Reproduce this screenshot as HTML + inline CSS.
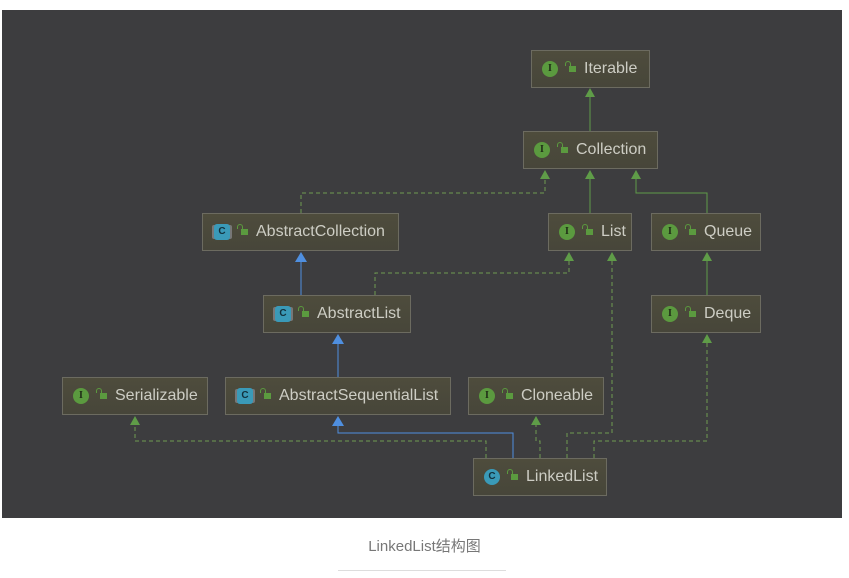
<!DOCTYPE html>
<html><head><meta charset="utf-8"><style>
body{margin:0;width:849px;height:578px;background:#fff;position:relative;overflow:hidden;font-family:"Liberation Sans","Noto Sans CJK SC",sans-serif}
#dark{position:absolute;left:2px;top:10px;width:840px;height:508px;background:#3d3d3f}
.n{position:absolute;box-sizing:border-box;height:38px;border:1px solid #6c6b60;background:linear-gradient(#4e4c3c,#47463a);color:#cdcdc4;font-size:16px;line-height:36px;white-space:nowrap}
.ic{position:absolute;top:10px;width:16px;height:16px;border-radius:50%;background:#5b9a3f;color:#1e2a16;font:bold 10px/16px "Liberation Serif",serif;text-align:center}
.ic.c{background:#3a9ab8;color:#12303c;font-family:"Liberation Sans",sans-serif}
.ic.ac{background:#3a9ab8;color:#12303c;font-family:"Liberation Sans",sans-serif;border-radius:3px;box-shadow:-3px 0 0 -1px #777,3px 0 0 -1px #777}
.lk{position:absolute;top:15px;width:7px;height:6px;background:#5b9a3f}
.lk:before{content:"";position:absolute;left:-4px;top:-5px;width:4px;height:4px;border:1.5px solid #5b9a3f;border-bottom:none;border-radius:3px 3px 0 0}
.t{position:absolute;top:0}
#cap{position:absolute;top:535px;left:0;width:849px;text-align:center;color:#777;font-size:15px}
#ln{position:absolute;left:338px;top:570px;width:168px;height:1px;background:#ddd}
</style></head><body>
<div id="dark"></div>
<svg width="849" height="578" style="position:absolute;left:0;top:0">
<g fill="none" stroke-width="1">
<path d="M590,131 V96" stroke="#5f9c48"/>
<path d="M590,213 V178" stroke="#5f9c48"/>
<path d="M707,213 V193 H636 V178" stroke="#5f9c48"/>
<path d="M707,295 V260" stroke="#5f9c48"/>
<path d="M301,213 V193 H545 V178" stroke="#6f9a52" stroke-dasharray="4,3"/>
<path d="M375,295 V273 H569 V260" stroke="#6f9a52" stroke-dasharray="4,3"/>
<path d="M301,295 V260" stroke="#4f8fe0"/>
<path d="M338,377 V342" stroke="#4f8fe0"/>
<path d="M513,458 V433 H338 V424" stroke="#4f8fe0"/>
<path d="M486,458 V441 H135 V424" stroke="#6f9a52" stroke-dasharray="4,3"/>
<path d="M540,458 V441 H536 V424" stroke="#6f9a52" stroke-dasharray="4,3"/>
<path d="M567,458 V433 H612 V260" stroke="#6f9a52" stroke-dasharray="4,3"/>
<path d="M594,458 V441 H707 V342" stroke="#6f9a52" stroke-dasharray="4,3"/>
</g>
<g fill="#5f9c48">
<path d="M590,88 l-5,9 h10z"/><path d="M590,170 l-5,9 h10z"/><path d="M636,170 l-5,9 h10z"/><path d="M545,170 l-5,9 h10z"/>
<path d="M707,252 l-5,9 h10z"/><path d="M569,252 l-5,9 h10z"/><path d="M612,252 l-5,9 h10z"/>
<path d="M707,334 l-5,9 h10z"/><path d="M135,416 l-5,9 h10z"/><path d="M536,416 l-5,9 h10z"/>
</g>
<g fill="#4f8fe0">
<path d="M301,252 l-6,10 h12z"/><path d="M338,334 l-6,10 h12z"/><path d="M338,416 l-6,10 h12z"/>
</g>
</svg>
<div class="n" style="left:531px;top:50px;width:119px"><span class="ic" style="left:10px">I</span><span class="lk" style="left:37px"></span><span class="t" style="left:52px">Iterable</span></div>
<div class="n" style="left:523px;top:131px;width:135px"><span class="ic" style="left:10px">I</span><span class="lk" style="left:37px"></span><span class="t" style="left:52px">Collection</span></div>
<div class="n" style="left:202px;top:213px;width:197px"><span class="ic ac" style="left:11px">C</span><span class="lk" style="left:38px"></span><span class="t" style="left:53px">AbstractCollection</span></div>
<div class="n" style="left:548px;top:213px;width:84px"><span class="ic" style="left:10px">I</span><span class="lk" style="left:37px"></span><span class="t" style="left:52px">List</span></div>
<div class="n" style="left:651px;top:213px;width:110px"><span class="ic" style="left:10px">I</span><span class="lk" style="left:37px"></span><span class="t" style="left:52px">Queue</span></div>
<div class="n" style="left:263px;top:295px;width:148px"><span class="ic ac" style="left:11px">C</span><span class="lk" style="left:38px"></span><span class="t" style="left:53px">AbstractList</span></div>
<div class="n" style="left:651px;top:295px;width:110px"><span class="ic" style="left:10px">I</span><span class="lk" style="left:37px"></span><span class="t" style="left:52px">Deque</span></div>
<div class="n" style="left:62px;top:377px;width:146px"><span class="ic" style="left:10px">I</span><span class="lk" style="left:37px"></span><span class="t" style="left:52px">Serializable</span></div>
<div class="n" style="left:225px;top:377px;width:226px"><span class="ic ac" style="left:11px">C</span><span class="lk" style="left:38px"></span><span class="t" style="left:53px">AbstractSequentialList</span></div>
<div class="n" style="left:468px;top:377px;width:136px"><span class="ic" style="left:10px">I</span><span class="lk" style="left:37px"></span><span class="t" style="left:52px">Cloneable</span></div>
<div class="n" style="left:473px;top:458px;width:134px"><span class="ic c" style="left:10px">C</span><span class="lk" style="left:37px"></span><span class="t" style="left:52px">LinkedList</span></div>
<div id="cap">LinkedList结构图</div>
<div id="ln"></div>
</body></html>
